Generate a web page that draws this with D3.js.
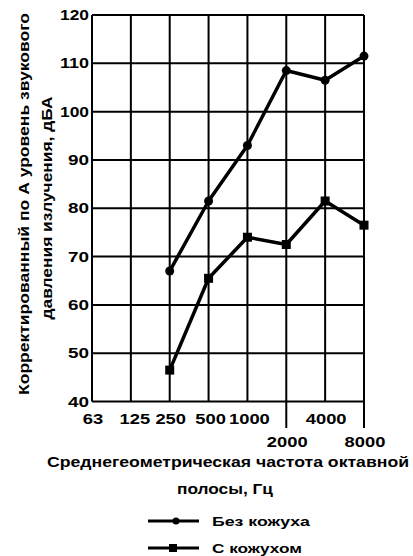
<!DOCTYPE html>
<html>
<head>
<meta charset="utf-8">
<script src="https://cdn.jsdelivr.net/npm/d3@7"></script>
<style>
  body { margin: 0; background: #fff; }
  text { font-family: "Liberation Sans", Arial, sans-serif; font-weight: bold; fill: #000; }
</style>
</head>
<body>
<div id="chart"></div>
<script>
var freqs = ["63", "125", "250", "500", "1000", "2000", "4000", "8000"];
var lowerRow = ["2000", "8000"];
var yTicks = [40, 50, 60, 70, 80, 90, 100, 110, 120];
var seriesFreqs = ["250", "500", "1000", "2000", "4000", "8000"];
var withoutCover = [67, 81.5, 93, 108.5, 106.5, 111.5];
var withCover = [46.5, 65.5, 74, 72.5, 81.5, 76.5];
var seriesNames = ["Без кожуха", "С кожухом"];

var svg = d3.select("#chart").append("svg")
    .attr("width", 413)
    .attr("height", 556);

var x = d3.scalePoint().domain(freqs).range([92, 364]);
var y = d3.scaleLinear().domain([40, 120]).range([401.5, 15]);

// stretch text to the widths seen in the scan
function stretched(sel, len) {
    return sel.attr("textLength", len).attr("lengthAdjust", "spacingAndGlyphs");
}

// grid
svg.append("g").selectAll("line")
    .data(freqs).enter().append("line")
    .attr("x1", d => x(d)).attr("x2", d => x(d))
    .attr("y1", y(120))
    .attr("y2", d => lowerRow.indexOf(d) >= 0 ? 428 : y(40))
    .attr("stroke", "#000").attr("stroke-width", 2);
svg.append("g").selectAll("line")
    .data(yTicks).enter().append("line")
    .attr("x1", x("63")).attr("x2", x("8000"))
    .attr("y1", d => y(d)).attr("y2", d => y(d))
    .attr("stroke", "#000").attr("stroke-width", 2);

// y tick labels
svg.append("g").selectAll("text")
    .data(yTicks).enter().append("text")
    .attr("x", 89)
    .attr("y", d => y(d) + 5)
    .attr("text-anchor", "end")
    .attr("font-size", 15)
    .attr("textLength", d => d >= 100 ? 29 : 21)
    .attr("lengthAdjust", "spacingAndGlyphs")
    .text(d => d);

// x tick labels
svg.append("g").selectAll("text")
    .data(freqs).enter().append("text")
    .attr("x", d => x(d) + (d == "125" ? 4 : d == "500" ? 2 : d == "1000" ? 2 : 1))
    .attr("y", d => lowerRow.indexOf(d) >= 0 ? 447 : 424)
    .attr("text-anchor", "middle")
    .attr("font-size", 15)
    .attr("textLength", d => d.length * 10.2)
    .attr("lengthAdjust", "spacingAndGlyphs")
    .text(d => d);

// axis titles
stretched(svg.append("text")
    .attr("x", 228).attr("y", 467)
    .attr("text-anchor", "middle")
    .attr("font-size", 14), 362)
    .text("Среднегеометрическая частота октавной");
stretched(svg.append("text")
    .attr("x", 225).attr("y", 494)
    .attr("text-anchor", "middle")
    .attr("font-size", 14), 96)
    .text("полосы, Гц");
stretched(svg.append("g")
    .attr("transform", "translate(29,204)")
    .append("text")
    .attr("transform", "rotate(-90)")
    .attr("text-anchor", "middle")
    .attr("font-size", 14), 382)
    .text("Корректированный по А уровень звукового");
stretched(svg.append("g")
    .attr("transform", "translate(52,208)")
    .append("text")
    .attr("transform", "rotate(-90)")
    .attr("text-anchor", "middle")
    .attr("font-size", 14), 223)
    .text("давления излучения, дБА");

// lines
var line = d3.line()
    .x((d, i) => x(seriesFreqs[i]))
    .y(d => y(d));

[withoutCover, withCover].forEach(function (vals, k) {
    svg.append("path")
        .attr("d", line(vals))
        .attr("fill", "none")
        .attr("stroke", "#000")
        .attr("stroke-width", 3.5)
        .attr("stroke-linejoin", "round");
    var g = svg.append("g");
    if (k == 0) {
        g.selectAll("circle").data(vals).enter().append("circle")
            .attr("cx", (d, i) => x(seriesFreqs[i]))
            .attr("cy", d => y(d))
            .attr("r", 4.5)
            .attr("fill", "#000");
    } else {
        g.selectAll("rect").data(vals).enter().append("rect")
            .attr("x", (d, i) => x(seriesFreqs[i]) - 4.5)
            .attr("y", d => y(d) - 4.5)
            .attr("width", 9).attr("height", 9)
            .attr("fill", "#000");
    }
});

// legend
seriesNames.forEach(function (name, k) {
    var ly = k == 0 ? 521 : 548;
    svg.append("line")
        .attr("x1", 148).attr("x2", 199)
        .attr("y1", ly).attr("y2", ly)
        .attr("stroke", "#000").attr("stroke-width", 3);
    if (k == 0) {
        svg.append("circle").attr("cx", 176).attr("cy", ly).attr("r", 3.5).attr("fill", "#000");
    } else {
        svg.append("rect").attr("x", 169).attr("y", ly - 4).attr("width", 8).attr("height", 8).attr("fill", "#000");
    }
    stretched(svg.append("text")
        .attr("x", 212).attr("y", ly + 5)
        .attr("font-size", 13), k == 0 ? 98 : 90)
        .text(name);
});
</script>
</body>
</html>
